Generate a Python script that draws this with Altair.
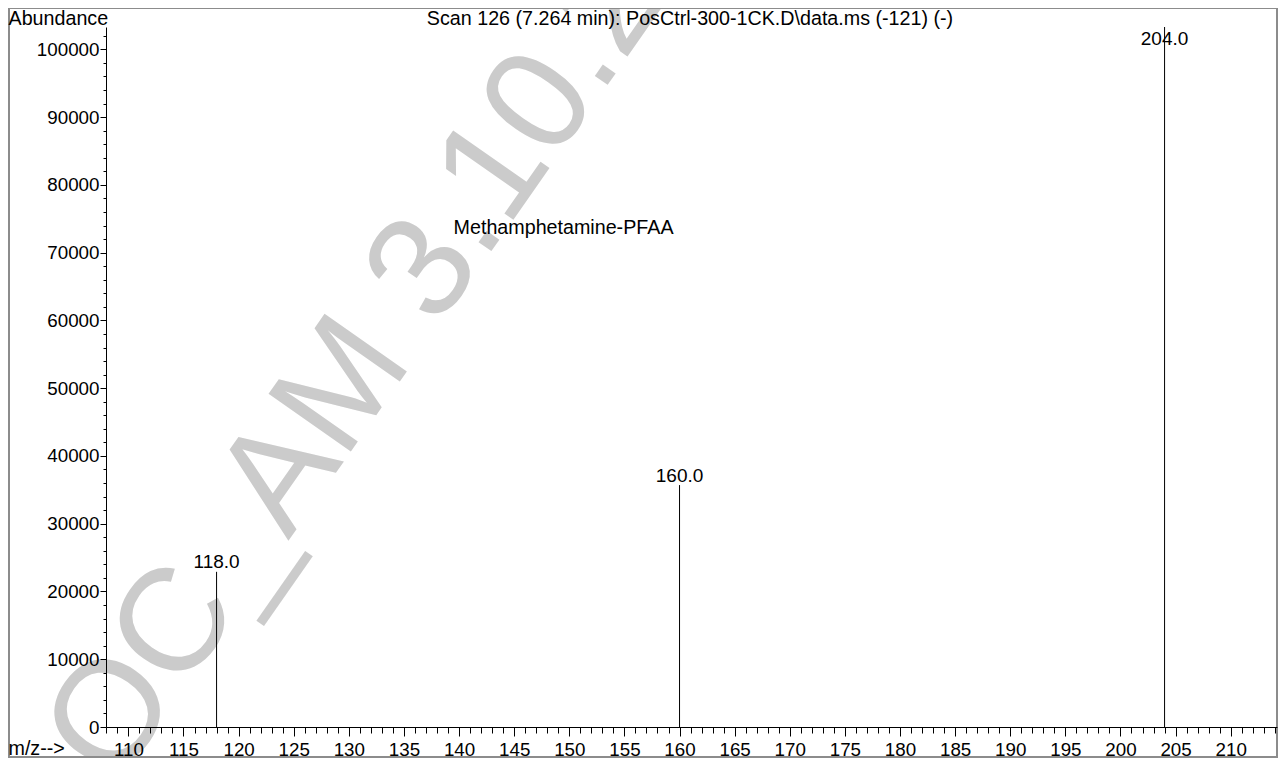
import altair as alt
import pandas as pd

FONT = "Liberation Sans"

# ---- data ----
mz = [118.0, 160.0, 204.0]
abundance = [22900, 35700, 103300]
peak_labels = ["118.0", "160.0", "204.0"]

title_text = ["Scan 126 (7.264 min): PosCtrl-300-1CK.D\\data.ms (-121) (-)"]
compound_name = ["Methamphetamine-PFAA"]
compound_mz = [139.5]
compound_abundance = [72800]
watermark_text = ["OC_AM 3.10.2"]

x_tick_values = list(range(108, 215))
y_tick_values = list(range(0, 103001, 2000))
x_domain = [107.97, 214.2]
y_domain = [0, 103300]

W, H = 1171, 700

peaks = pd.DataFrame({"mz": mz, "abundance": abundance, "label": peak_labels})
compound = pd.DataFrame({"name": compound_name, "mz": compound_mz, "abundance": compound_abundance})
titles = pd.DataFrame({"t": title_text})
wm = pd.DataFrame({"t": watermark_text})
one = pd.DataFrame({"a": [0]})

x_scale = alt.Scale(domain=x_domain, nice=False, zero=False)
y_scale = alt.Scale(domain=y_domain, nice=False, zero=False)

x_axis = alt.Axis(
    values=x_tick_values,
    format="d",
    labelExpr="datum.value % 5 === 0 ? datum.label : ''",
    tickSize={"condition": {"test": "datum.value % 5 === 0", "value": 9}, "value": 6},
    labelBaseline="alphabetic",
    labelPadding=19,
    labelFontSize=18.8,
    labelOverlap=False,
    labelFlush=False,
    labelBound=False,
    title="m/z-->",
    titleAngle=0,
    titleX=-98,
    titleY=27,
    titleAlign="left",
    titleBaseline="alphabetic",
    titleFontSize=19.7,
    titleFontWeight="normal",
    grid=False,
    zindex=1,
)
y_axis = alt.Axis(
    values=y_tick_values,
    format="d",
    labelExpr="datum.value % 10000 === 0 ? datum.label : ''",
    tickSize={"condition": {"test": "datum.value % 10000 === 0", "value": 6}, "value": 3},
    labelPadding=1,
    labelFontSize=18.8,
    labelOverlap=False,
    labelFlush=False,
    labelBound=False,
    title="Abundance",
    titleAngle=0,
    titleX=-98,
    titleY=-2.5,
    titleAlign="left",
    titleBaseline="alphabetic",
    titleFontSize=19.7,
    titleFontWeight="normal",
    grid=False,
    zindex=1,
)

watermark = alt.Chart(wm).mark_text(
    angle=305, fontSize=146, color="#cbcbcb", align="left", baseline="alphabetic", font=FONT
).encode(text="t:N", x=alt.value(10), y=alt.value(760))

frame = alt.Chart(one).mark_rect(
    fillOpacity=0, stroke="#8c8c8c", strokeWidth=2
).encode(x=alt.value(-97), x2=alt.value(W), y=alt.value(-19), y2=alt.value(730))

rules = alt.Chart(peaks).mark_rule(color="black", strokeWidth=1).encode(
    x=alt.X("mz:Q", scale=x_scale, axis=x_axis),
    y=alt.Y("abundance:Q", scale=y_scale, axis=y_axis),
    y2=alt.datum(0),
)

peak_text = alt.Chart(peaks).transform_calculate(
    ly="min(datum.abundance, 100200)"
).mark_text(
    fontSize=19, font=FONT, color="black", baseline="alphabetic", align="center", dy=-3.5
).encode(
    x=alt.X("mz:Q", scale=x_scale, axis=x_axis),
    y=alt.Y("ly:Q", scale=y_scale, axis=y_axis),
    text="label:N",
)

compound_text = alt.Chart(compound).mark_text(
    fontSize=19.7, font=FONT, color="black", baseline="alphabetic", align="left"
).encode(
    x=alt.X("mz:Q", scale=x_scale, axis=x_axis),
    y=alt.Y("abundance:Q", scale=y_scale, axis=y_axis),
    text="name:N",
)

title = alt.Chart(titles).mark_text(
    fontSize=19.7, font=FONT, color="black", baseline="alphabetic", align="center"
).encode(text="t:N", x=alt.value(584), y=alt.value(-2.5))

chart = (
    alt.layer(watermark, frame, rules, peak_text, compound_text, title)
    .properties(
        width=W,
        height=H,
        autosize=alt.AutoSizeParams(type="none"),
        padding={"left": 98, "top": 19, "right": 1, "bottom": 31},
        background="white",
    )
    .configure_view(stroke=None)
    .configure_axis(
        domainColor="black",
        domainWidth=1,
        tickColor="black",
        tickWidth=1,
        labelColor="black",
        titleColor="black",
        labelFont=FONT,
        titleFont=FONT,
    )
)

chart.save("out.html", embed_options={"renderer": "svg", "actions": False})
